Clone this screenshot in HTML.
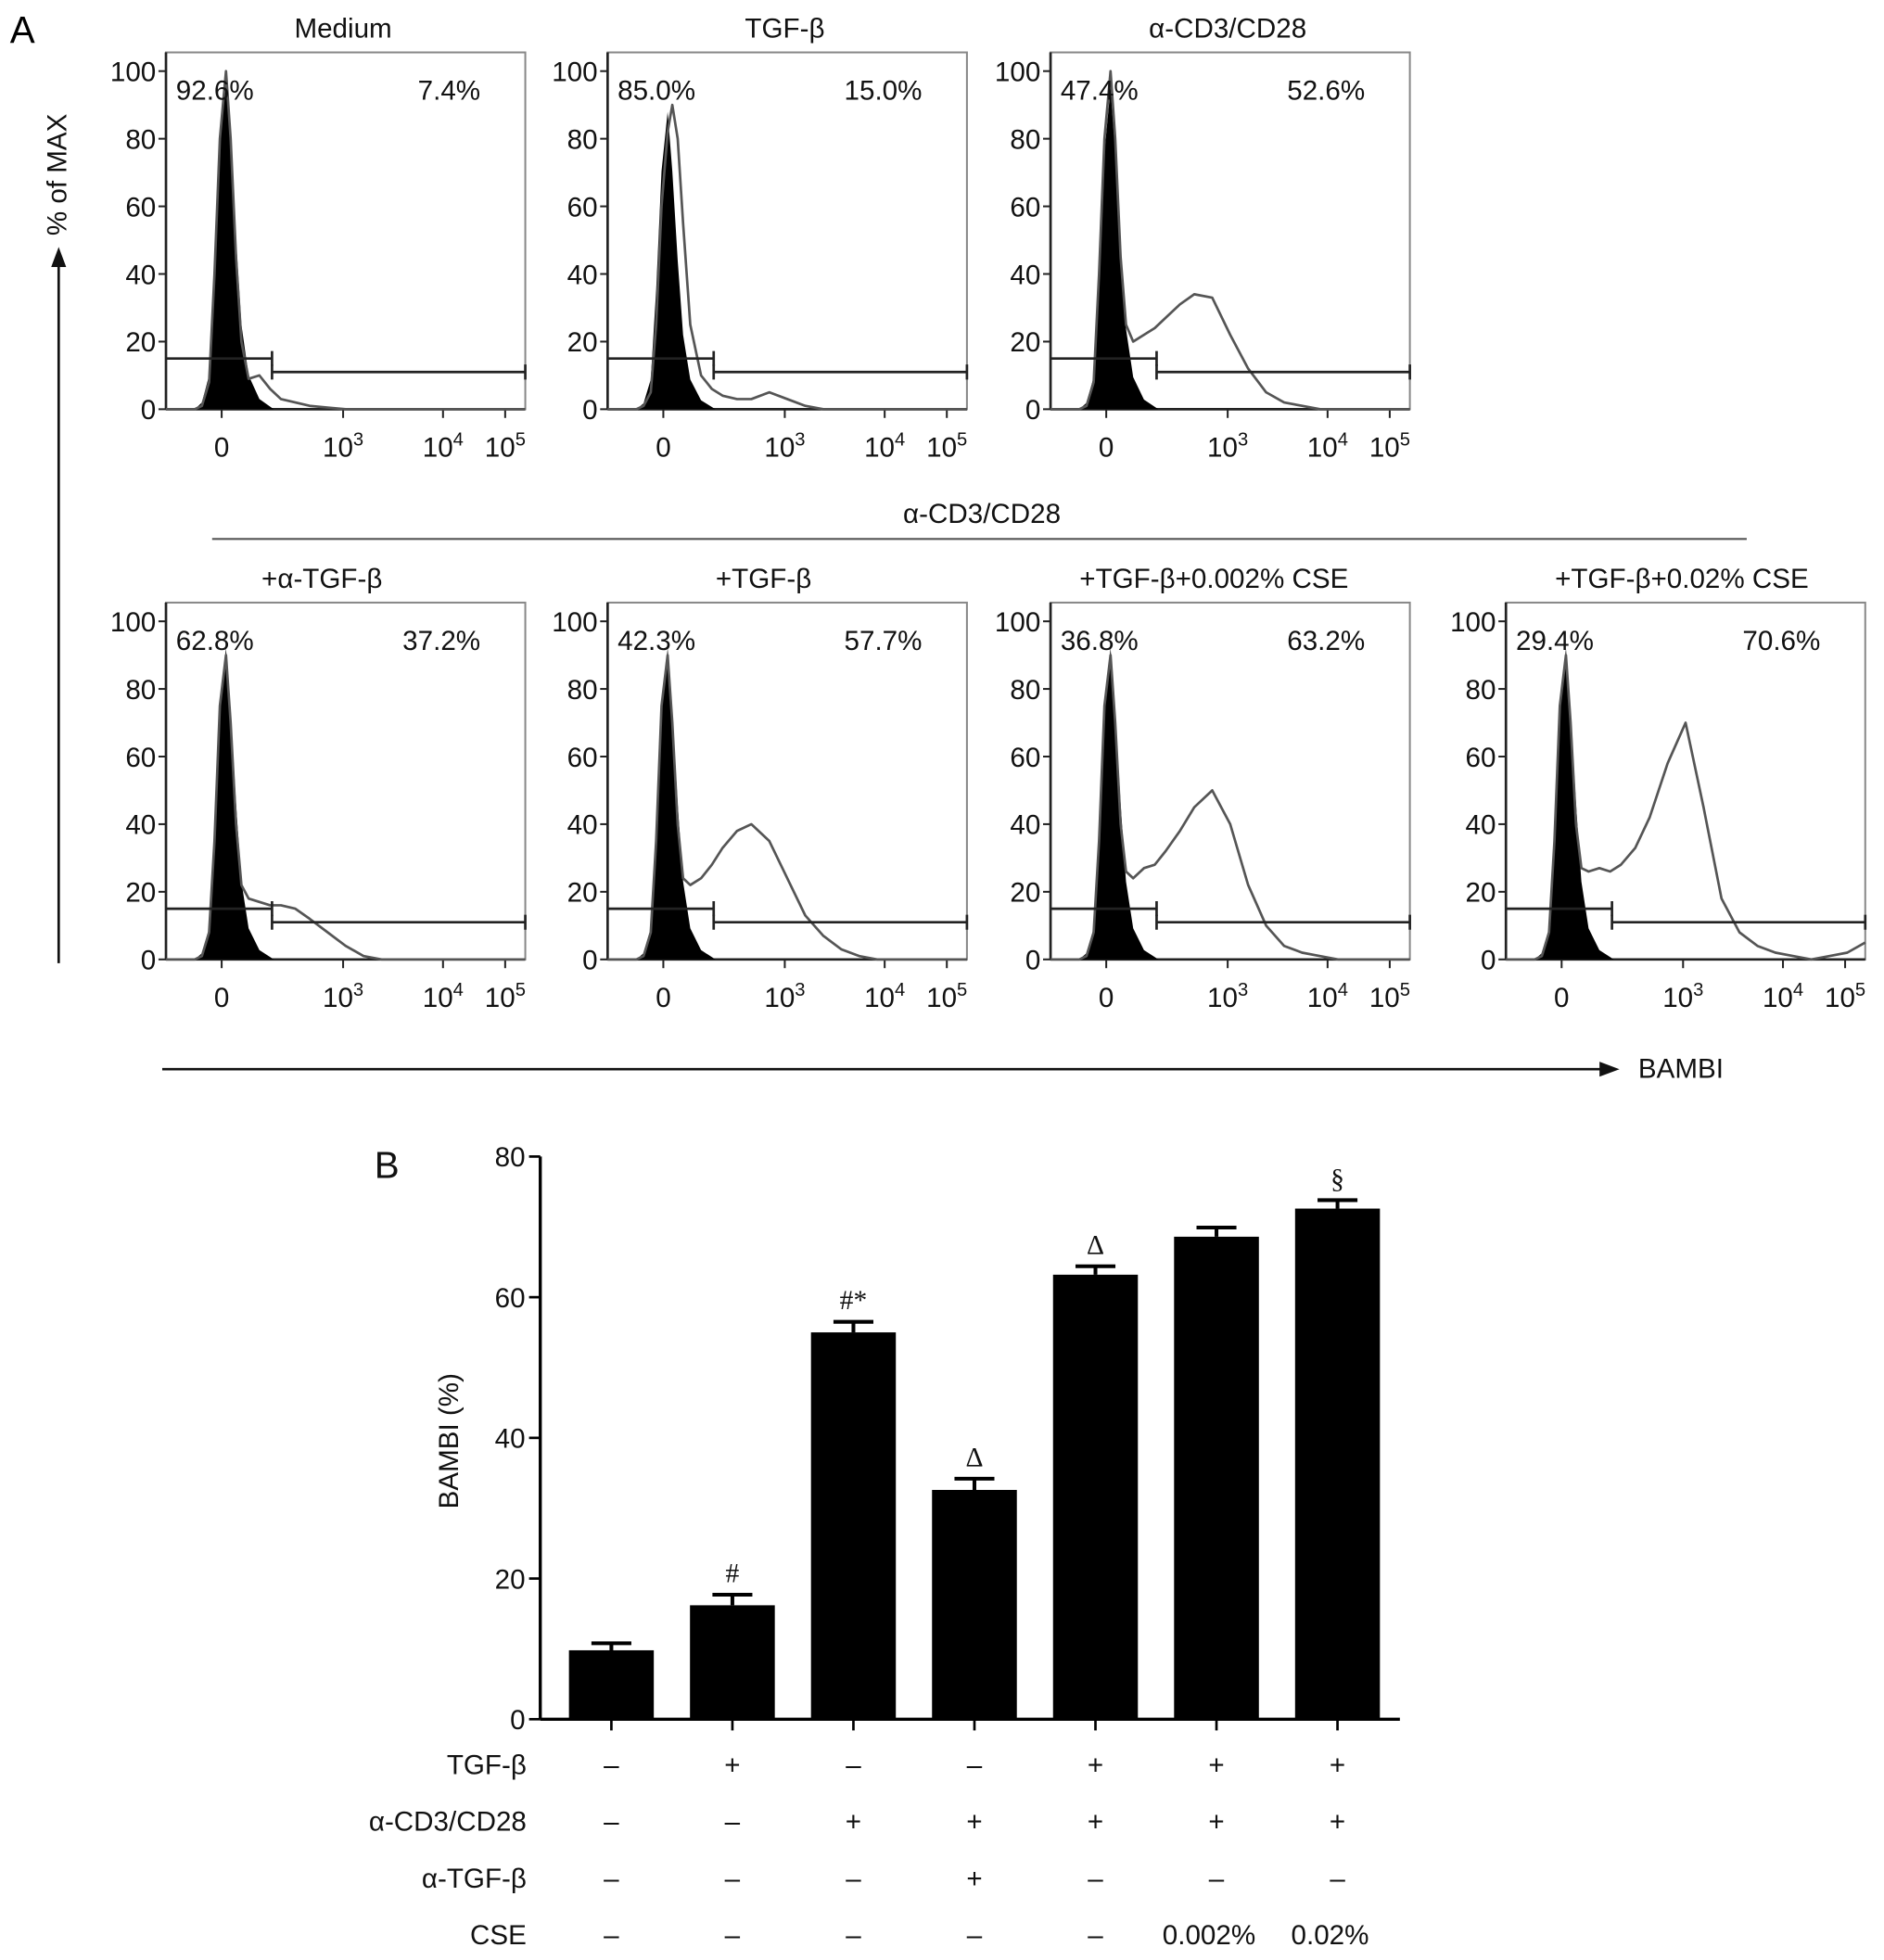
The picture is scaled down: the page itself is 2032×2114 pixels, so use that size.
<!DOCTYPE html>
<html><head><meta charset="utf-8">
<style>
html,body{margin:0;padding:0;background:#fff;}
svg{display:block;font-family:"Liberation Sans",sans-serif;}
</style></head>
<body>
<svg id="fig" width="2032" height="2114" viewBox="0 0 1510 1571" xmlns="http://www.w3.org/2000/svg">
<rect width="1510" height="1571" fill="#fff"/>
<g id="panelA"></g>
<g id="panelB"></g>
</svg>
<script>
// ===== Panel A data =====
const histTitles = ["Medium","TGF-β","α-CD3/CD28","+α-TGF-β","+TGF-β","+TGF-β+0.002% CSE","+TGF-β+0.02% CSE"];
const leftPct = ["92.6%","85.0%","47.4%","62.8%","42.3%","36.8%","29.4%"];
const rightPct = ["7.4%","15.0%","52.6%","37.2%","57.7%","63.2%","70.6%"];
const channelGrid = [0,5,8,10,12,13.5,15,16.7,18,19.5,21,23,26,29,32,36,40,45,50,55,60,65,70,75,80,85,90,95,100];
const outline0 = [0,0,0,1,8,40,80,100,80,45,20,9,10,6,3,2,1,0.5,0,0,0,0,0,0,0,0,0,0,0];
const outline1 = [0,0,0,1,5,25,60,82,90,80,55,25,10,6,4,3,3,5,3,1,0,0,0,0,0,0,0,0,0];
const outline2 = [0,0,0,1,8,40,80,100,80,45,25,20,22,24,27,31,34,33,22,12,5,2,1,0,0,0,0,0,0];
const outline3 = [0,0,0,1,8,35,75,90,70,40,22,18,17,16,16,15,12,8,4,1,0,0,0,0,0,0,0,0,0];
const outline4 = [0,0,0,1,8,35,75,90,70,40,24,22,24,28,33,38,40,35,24,13,7,3,1,0,0,0,0,0,0];
const outline5 = [0,0,0,1,8,35,75,90,70,40,26,24,27,28,32,38,45,50,40,22,10,4,2,1,0,0,0,0,0];
const outline6 = [0,0,0,1,8,35,75,90,70,40,27,26,27,26,28,33,42,58,70,45,18,8,4,2,1,0,1,2,5];
const outlines = [outline0,outline1,outline2,outline3,outline4,outline5,outline6];
const filledGrid = [8,10,12,13.5,15,16.7,18,19.5,21,23,26,30];
const filledVals = [0,2,10,40,80,100,80,50,25,10,3,0];
const filledPeak = [100,88,95,92,92,92,92];
const yTicksA = [0,20,40,60,80,100];
const xTickVals = [15.5,49.3,77.1,94.4];
const xTickLbl = ["0","10","10","10"];
const xTickExp = ["","3","4","5"];

const NS="http://www.w3.org/2000/svg";
function mk(parent,tag,attrs,text){const e=document.createElementNS(NS,tag);for(const k in attrs)e.setAttribute(k,attrs[k]);if(text!==undefined)e.textContent=text;parent.appendChild(e);return e;}

const A=document.getElementById('panelA');
const frames=[[133,42,328],[487,42,328],[842,42,328],[133,483,769],[487,483,769],[842,483,769],[1207,483,769]];
const W=288;
let t;
t=mk(A,'text',{x:8,y:34,'font-size':30},'A');



frames.forEach((f,i)=>{
  const [L,T,B]=f;
  const top100=B-271;
  const xs=u=>L+u/100*W;
  const ys=v=>B-(v/100)*(B-top100);
  const g=mk(A,'g',{});
  
  
  const fr=mk(g,'rect',{x:L,y:T,width:W,height:B-T,fill:'none',stroke:'#888','stroke-width':1.5});
  
  
  mk(g,'line',{x1:L,y1:B,x2:L+W,y2:B,stroke:'#222','stroke-width':2});
  mk(g,'line',{x1:L,y1:T,x2:L,y2:B,stroke:'#222','stroke-width':2});
  yTicksA.forEach(v=>{
    mk(g,'line',{x1:L-6,y1:ys(v),x2:L,y2:ys(v),stroke:'#222','stroke-width':1.5});
    const tl=mk(g,'text',{x:L-8,y:ys(v)+8,'font-size':22,'text-anchor':'end',fill:'#111'},String(v));
    
    
  });
  xTickVals.forEach((u,k)=>{
    mk(g,'line',{x1:xs(u),y1:B,x2:xs(u),y2:B+7,stroke:'#222','stroke-width':1.5});
    const tl=mk(g,'text',{x:xs(u),y:B+38,'font-size':22,'text-anchor':'middle',fill:'#111'});
    
    
    mk(tl,'tspan',{},xTickLbl[k]);
    if(xTickExp[k]) mk(tl,'tspan',{dy:-9,'font-size':15},xTickExp[k]);
  });
  let d='M'+xs(filledGrid[0])+','+B;
  filledGrid.forEach((u,k)=>{d+=' L'+xs(u)+','+ys(filledVals[k]*filledPeak[i]/100);});
  d+=' L'+xs(filledGrid[filledGrid.length-1])+','+B+' Z';
  const fp=mk(g,'path',{d:d,fill:'#000'});
  
  
  const ol=outlines[i];
  let d2='';
  channelGrid.forEach((u,k)=>{d2+=(k?' L':'M')+xs(u)+','+ys(ol[k]);});
  const op=mk(g,'path',{d:d2,fill:'none',stroke:'#555','stroke-width':2,'stroke-linejoin':'round'});
  
  
  const gx=L+85, gy1=ys(15), gy2=ys(11);
  const g1=mk(g,'path',{d:`M${L},${gy1} L${gx},${gy1} M${gx},${gy1-6} L${gx},${gy1+6}`,stroke:'#222','stroke-width':2,fill:'none'});
  
  
  const g2=mk(g,'path',{d:`M${gx},${gy2} L${L+W},${gy2} M${gx},${gy2-6} L${gx},${gy2+6} M${L+W},${gy2-6} L${L+W},${gy2+6}`,stroke:'#222','stroke-width':2,fill:'none'});
  
  
  const lp=mk(g,'text',{x:L+8,y:T+38,'font-size':22,fill:'#111'},leftPct[i]);
  
  
  const rp=mk(g,'text',{x:L+252,y:T+38,'font-size':22,fill:'#111','text-anchor':'end'},rightPct[i]);
  
  
  const tt=mk(g,'text',{x:L+(i<3?142:125)+(i==6?16:0)+(i==5?6:0),y:T-12,'font-size':22,fill:'#111','text-anchor':'middle'},histTitles[i]);
  
  
});
mk(A,'line',{x1:170,y1:432,x2:1400,y2:432,stroke:'#555','stroke-width':1.5});
t=mk(A,'text',{x:787,y:419,'font-size':22,'text-anchor':'middle',fill:'#111'},'α-CD3/CD28');


mk(A,'line',{x1:47,y1:772,x2:47,y2:212,stroke:'#111','stroke-width':2});
mk(A,'path',{d:'M41,214 L47,198 L53,214 Z',fill:'#111'});
t=mk(A,'text',{x:0,y:0,'font-size':22,'text-anchor':'middle',fill:'#111',transform:'translate(53,140) rotate(-90)'},'% of MAX');


mk(A,'line',{x1:130,y1:857,x2:1285,y2:857,stroke:'#111','stroke-width':2});
mk(A,'path',{d:'M1282,851 L1298,857 L1282,863 Z',fill:'#111'});
t=mk(A,'text',{x:1313,y:864,'font-size':22,fill:'#111'},'BAMBI');



// ===== Panel B data =====
const barValues = [9.8,16.2,55.0,32.6,63.2,68.6,72.6];
const barErrors = [1.0,1.5,1.5,1.6,1.2,1.3,1.2];
const barMarks = ["","#","#*","Δ","Δ","","§"];
const yTicksB = [0,20,40,60,80];
const rowLabels = ["TGF-β","α-CD3/CD28","α-TGF-β","CSE"];
const rowTGF = ["–","+","–","–","+","+","+"];
const rowCD3 = ["–","–","+","+","+","+","+"];
const rowAnti = ["–","–","–","+","–","–","–"];
const rowCSE = ["–","–","–","–","–","0.002%","0.02%"];
const rows=[rowTGF,rowCD3,rowAnti,rowCSE];

const PB=document.getElementById('panelB');
const x0=433,x1=1122,yb=1378,yt=927;
const yB=v=>yb-v/80*(yb-yt);
const xB=i=>490+i*97;
t=mk(PB,'text',{x:300,y:944,'font-size':30,fill:'#111'},'B');


barValues.forEach((v,i)=>{
  const r=mk(PB,'rect',{x:xB(i)-34,y:yB(v),width:68,height:yb-yB(v),fill:'#000'});
  
  
  const e=mk(PB,'path',{d:`M${xB(i)},${yB(v)} L${xB(i)},${yB(v+barErrors[i])} M${xB(i)-16},${yB(v+barErrors[i])} L${xB(i)+16},${yB(v+barErrors[i])}`,stroke:'#000','stroke-width':3});
  
  
  if(barMarks[i]){
    const m=mk(PB,'text',{x:xB(i),y:yB(v+barErrors[i])-10,'font-size':22,'text-anchor':'middle',fill:'#111','font-family':'Liberation Serif, serif'},barMarks[i]);
    
    
  }
  mk(PB,'line',{x1:xB(i),y1:yb,x2:xB(i),y2:yb+9,stroke:'#000','stroke-width':2});
  rows.forEach((row,k)=>{
    const c=mk(PB,'text',{x:xB(i)-(row[i].length>2?6:0),y:1422+k*45.5,'font-size':22,'text-anchor':'middle',fill:'#111'},row[i]);
    
    
  });
});
mk(PB,'line',{x1:x0,y1:yt,x2:x0,y2:yb,stroke:'#000','stroke-width':2.5});
mk(PB,'line',{x1:x0,y1:yb,x2:x1,y2:yb,stroke:'#000','stroke-width':2.5});
yTicksB.forEach(v=>{
  mk(PB,'line',{x1:x0-9,y1:yB(v),x2:x0,y2:yB(v),stroke:'#000','stroke-width':2});
  const tl=mk(PB,'text',{x:x0-12,y:yB(v)+8,'font-size':22,'text-anchor':'end',fill:'#111'},String(v));
  
  
});
t=mk(PB,'text',{x:0,y:0,'font-size':22,'text-anchor':'middle',fill:'#111',transform:'translate(367,1155) rotate(-90)'},'BAMBI (%)');


rowLabels.forEach((l,k)=>{
  const r=mk(PB,'text',{x:422,y:1422+k*45.5,'font-size':22,'text-anchor':'end',fill:'#111'},l);
  
  
});
</script>
</body></html>
